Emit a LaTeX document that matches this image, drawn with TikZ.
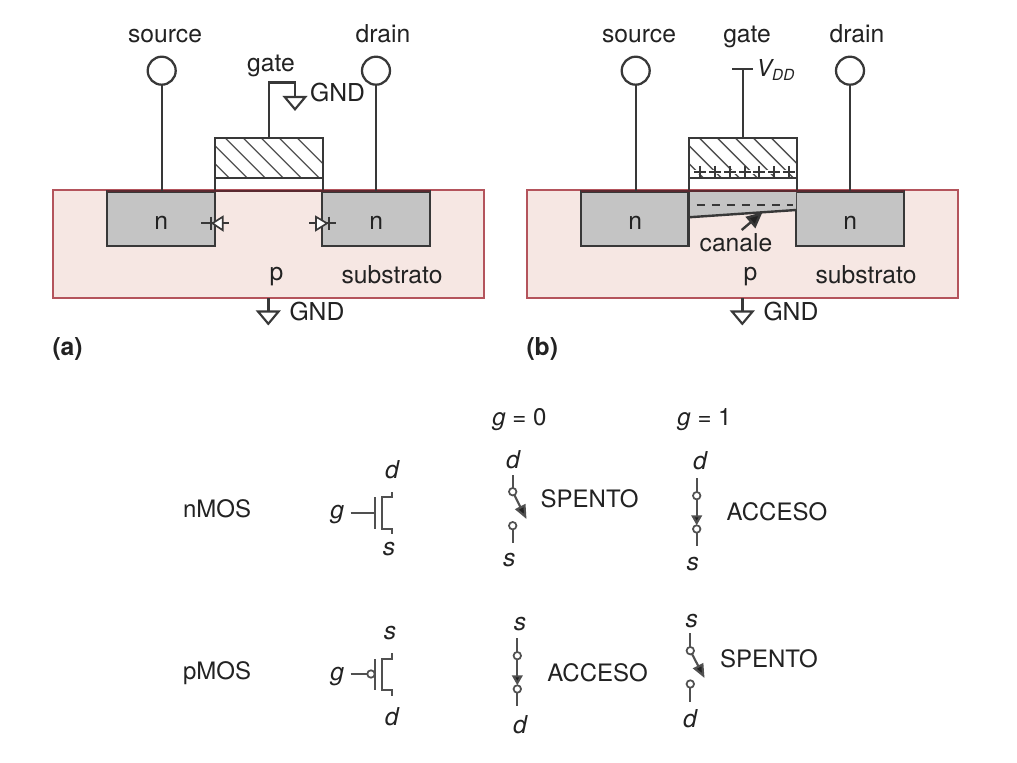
\documentclass[tikz,border=0pt]{standalone}
\usepackage{fontspec}
\setmainfont{TeX Gyre Heros}
\usetikzlibrary{arrows.meta}
\definecolor{ink}{HTML}{222222}
\definecolor{wirec}{HTML}{383838}
\definecolor{softc}{HTML}{505050}
\definecolor{subfill}{HTML}{F6E7E3}
\definecolor{subedge}{HTML}{B4545C}
\definecolor{nfill}{HTML}{C4C4C4}
\definecolor{topline}{HTML}{5A2A30}
\tikzset{
  lab/.style={inner sep=0pt,outer sep=0pt,text=ink,font=\fontsize{18.5}{20}\selectfont},
  labc/.style={lab,anchor=base},
  labw/.style={lab,anchor=base west},
  wire/.style={draw=wirec,line width=1.8pt},
  softwire/.style={draw=softc,line width=1.6pt},
  thinwire/.style={draw=wirec,line width=1.25pt},
  subbox/.style={draw=subedge,fill=subfill,line width=1.4pt,inner sep=0pt,outer sep=0pt},
  nbox/.style={draw=wirec,fill=nfill,line width=1.7pt,inner sep=0pt,outer sep=0pt},
  gatebox/.style={draw=wirec,line width=1.7pt,inner sep=0pt,outer sep=0pt},
  term/.style={circle,draw=wirec,fill=white,line width=1.7pt,minimum size=21pt,inner sep=0pt,outer sep=0pt},
  pin/.style={circle,draw=softc,fill=white,line width=1.3pt,minimum size=5.6pt,inner sep=0pt,outer sep=0pt},
  gndtri/.style={draw=wirec,fill=white,line width=1.6pt,line join=miter},
  swarrow/.style={softwire,-{Triangle[length=10.5pt,width=8.5pt,fill=ink]}},
  dnarrow/.style={softwire,-{Triangle[length=7.5pt,width=8pt,fill=ink]}},
}
\newcommand{\boxat}[6]{\node[#1,minimum width={(#5-#3)*0.75pt},minimum height={(#6-#4)*0.75pt}] (#2) at ({(#3+#5)/2},{(#4+#6)/2}) {};}
\newcommand{\gndsym}[1]{\draw[gndtri] (#1) ++(-10.3,0) -- ++(20.6,0) -- ++(-10.3,12.3) -- cycle;}
\newcommand{\panelbase}[1]{
  \boxat{subbox}{sub#1}{53.3}{190}{484}{298}
  \boxat{nbox}{nl#1}{107}{191.5}{215}{245.7}
  \boxat{nbox}{nr#1}{322.3}{191.5}{430}{245.7}
  \boxat{gatebox}{gate#1}{215}{137.7}{322.7}{178.3}
  \begin{scope}
    \clip (gate#1.north west) rectangle (gate#1.south east);
    \foreach \h in {-2,...,5} {\draw[softwire,line width=1pt] ({207+18*\h*1.0},137.7) -- ++(40.6,40.6);}
  \end{scope}
  \node[gatebox,minimum width={107.7*0.75pt},minimum height={40.6*0.75pt}] (gateo#1) at (gate#1) {};
  \draw[wire] (gate#1.south west) -- (gate#1.south west |- nl#1.north);
  \draw[wire] (gate#1.south east) -- (gate#1.south east |- nr#1.north);
  \draw[wire,draw=topline,line width=1.5pt] (nl#1.north west) -- (nr#1.north east);
  \node[term] (src#1) at (161.7,70.7) {};
  \node[term] (drn#1) at (376,70.7) {};
  \draw[wire] (src#1) -- (src#1 |- nl#1.north);
  \draw[wire] (drn#1) -- (drn#1 |- nr#1.north);
  \node[labc] (lsrc#1) at (165,42.7) {source};
  \node[labc] (ldrn#1) at (383,42.7) {drain};
  \node[labc] (ln1#1) at (161.3,229.5) {n};
  \node[labc] (ln2#1) at (376.3,229.5) {n};
  \node[labc] (lp#1) at (276.5,280.5) {p};
  \node[labc] (lsub#1) at (392,283.5) {substrato};
  \coordinate (gs#1) at (268.3,311.5);
  \draw[wire] (gs#1 |- sub#1.south) -- (gs#1);
  \gndsym{gs#1}
  \node[labw] (lg#1) at (289.5,320) {GND};
}
\begin{document}
\begin{tikzpicture}[x=0.75pt,y=-0.75pt]
\useasboundingbox (0,0) rectangle (1017,763);
% panel (a)
\panelbase{A}
\node[labc] (lgateA) at (271,72) {gate};
\coordinate (gwA) at (269,82.7);
\coordinate (gtA) at (295,97);
\draw[wire] (gwA |- gateA.north) -- (gwA) -| (gtA);
\gndsym{gtA}
\node[labw] (lgndA) at (310.2,101.7) {GND};
\coordinate (dl) at (201,223.3);
\coordinate (dr) at (228.7,223.3);
\draw[thinwire] (dl) -- (dr);
\draw[thinwire] (211,216.5) -- (211,230);
\draw[thinwire,fill=white] (222.7,216.8) -- (222.7,230.2) -- (212.5,223.3) -- cycle;
\coordinate (el) at (309.3,223.3);
\coordinate (er) at (336,223.3);
\draw[thinwire] (el) -- (er);
\draw[thinwire] (329.3,216.5) -- (329.3,230);
\draw[thinwire,fill=white] (316,216.8) -- (316,230.2) -- (327,223.3) -- cycle;
\node[labw,font=\fontsize{18.5}{20}\selectfont\bfseries] (capA) at (52.5,355) {(a)};
% panel (b)
\begin{scope}[xshift=355.5pt]
\panelbase{B}
\end{scope}
\node[labc] (lgateB) at (747,42.7) {gate};
\coordinate (vt) at (743,69.3);
\draw[wire] (vt |- gateB.north) -- (vt);
\draw[wire] (732,69.3) -- (753,69.3);
\node[labw,font=\fontsize{17.5}{20}\selectfont] (lvdd) at (756.7,76.7) {\textit{V}\kern-1.5pt\raisebox{-3pt}{\fontsize{11.5}{14}\selectfont\textit{DD}}};
\fill[nfill] (689,192.2) -- (796,192.2) -- (796,210) -- (689,217.3) -- cycle;
\draw[wire] (688.5,217.3) -- (796.3,210);
\draw[wire] (688.5,192) -- (688.5,245);
\draw[wire,dash pattern=on 6pt off 5.3pt,line width=1.4pt] (696.7,204.7) -- (792.7,204.7);
\draw[white,line width=3pt] (693,172) -- (795.5,172);
\foreach \xx in {700,715,730,745,759.3,774.3,789.3} {\draw[wire,line width=1.25pt] (\xx,166) -- (\xx,177.5);\draw[wire,line width=1.25pt] ({\xx-6},172) -- ({\xx+6},172);}
\node[labc] (lcan) at (736,251.7) {canale};
\coordinate (cfrom) at (741.7,230);
\coordinate (cto) at (762.5,212.2);
\draw[wire,-{Triangle[length=12pt,width=11pt,fill=ink]}] (cfrom) -- (cto);
\node[labw,font=\fontsize{18.5}{20}\selectfont\bfseries] (capB) at (526.5,355) {(b)};
% table
\tikzset{tb/.style={labc,font=\fontsize{18}{20}\selectfont}, tbw/.style={labw,font=\fontsize{18}{20}\selectfont}, tbi/.style={labc,font=\fontsize{18.5}{20}\selectfont\itshape}}
\node[tb] (h0) at (519.5,425) {\textit{g} = 0};
\node[tb] (h1) at (704.5,425) {\textit{g} = 1};
\node[tbw] (rn) at (183,517.5) {nMOS};
\node[tbw] (rp) at (183,679.5) {pMOS};
% nMOS symbol
\node[tbi] (ng) at (337.3,518.5) {g};
\node[tbi] (nd) at (392,478.5) {d};
\node[tbi] (ns) at (389,555.5) {s};
\coordinate (ngb) at (375,512.7);
\draw[softwire] (350.7,512.7) -- (ngb);
\draw[softwire] (375,497.3) -- (375,529);
\draw[softwire] (392,492.3) -- (392,497.3) -- (382.3,497.3) -- (382.3,529) -- (392,529) -- (392,534);
% pMOS symbol
\node[tbi] (pg) at (337.3,680) {g};
\node[tbi] (pd) at (391.7,725) {d};
\node[tbi] (ps) at (390,639.5) {s};
\node[pin] (pb) at (371,674) {};
\draw[softwire] (350.7,674) -- (pb);
\draw[softwire] (375,659) -- (375,690);
\draw[softwire] (392,653.3) -- (392,659) -- (382.3,659) -- (382.3,690) -- (392,690) -- (392,695.7);
% switch n g=0
\node[tbi] (a1) at (513,468.5) {d};
\node[tbi] (a2) at (509.3,566.5) {s};
\node[pin] (a3) at (512.7,491.7) {};
\node[pin] (a4) at (512.7,525.7) {};
\coordinate (a5) at (526.5,519);
\draw[softwire] (a3) -- (512.7,475);
\draw[softwire] (a4) -- (512.7,543);
\draw[swarrow] (a3) -- (a5);
\node[tbw] (a6) at (540.7,507.5) {SPENTO};
% switch n g=1
\node[tbi] (b1) at (700,469) {d};
\node[tbi] (b2) at (692.7,570) {s};
\node[pin] (b3) at (696.7,495.7) {};
\node[pin] (b4) at (696.7,529) {};
\draw[softwire] (b3) -- (696.7,477.7);
\draw[softwire] (b4) -- (696.7,546);
\draw[dnarrow] (b3) -- (b4);
\node[tbw] (b6) at (726.7,520) {ACCESO};
% switch p g=0
\node[tbi] (c1) at (520,630) {s};
\node[tbi] (c2) at (520,733.5) {d};
\node[pin] (c3) at (517.3,655.7) {};
\node[pin] (c4) at (517.3,689) {};
\draw[softwire] (c3) -- (517.3,638.3);
\draw[softwire] (c4) -- (517.3,706);
\draw[dnarrow] (c3) -- (c4);
\node[tbw] (c6) at (547.3,681) {ACCESO};
% switch p g=1
\node[tbi] (d1) at (691.7,627.5) {s};
\node[tbi] (d2) at (690,727.5) {d};
\node[pin] (d3) at (690.3,650.7) {};
\node[pin] (d4) at (690.3,684) {};
\coordinate (d5) at (704.5,678);
\draw[softwire] (d3) -- (690.3,633.3);
\draw[softwire] (d4) -- (690.3,701.7);
\draw[swarrow] (d3) -- (d5);
\node[tbw] (d6) at (720,667.5) {SPENTO};
\end{tikzpicture}
\end{document}
